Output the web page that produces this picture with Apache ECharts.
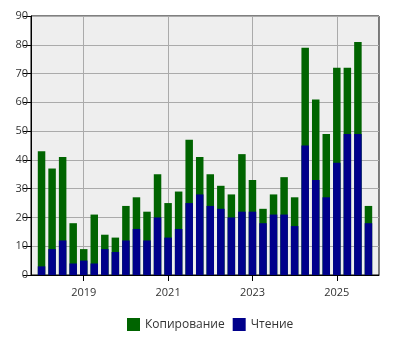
<!DOCTYPE html>
<html>
<head>
<meta charset="utf-8">
<script src="https://cdn.jsdelivr.net/npm/echarts@6/dist/echarts.min.js"></script>
<style>
html,body{margin:0;padding:0;background:#fff;}
#chart{width:400px;height:350px;}
</style>
</head>
<body>
<div id="chart"></div>
<script>
// Quarterly periods (year, quarter)
var periods = [
  '2018-Q1','2018-Q2','2018-Q3','2018-Q4',
  '2019-Q1','2019-Q2','2019-Q3','2019-Q4',
  '2020-Q1','2020-Q2','2020-Q3','2020-Q4',
  '2021-Q1','2021-Q2','2021-Q3','2021-Q4',
  '2022-Q1','2022-Q2','2022-Q3','2022-Q4',
  '2023-Q1','2023-Q2','2023-Q3','2023-Q4',
  '2024-Q1','2024-Q2','2024-Q3','2024-Q4',
  '2025-Q1','2025-Q2','2025-Q3','2025-Q4'
];
var readValues = [3,9,12,4,5,4,9,8,12,16,12,20,13,16,25,28,24,23,20,22,22,18,21,21,17,45,33,27,39,49,49,18];
var copyValues = [40,28,29,14,4,17,5,5,12,11,10,15,12,13,22,13,11,8,8,20,11,5,7,13,10,34,28,22,33,23,32,6];
var tickYears = [2019, 2021, 2023, 2025];
var seriesNames = ['Копирование', 'Чтение'];

function periodToX(p) {
  var parts = p.split('-Q');
  return Number(parts[0]) + (Number(parts[1]) - 1) / 4;
}
// "Копирование" is stacked on top of "Чтение": draw its segment as the cumulative top,
// with "Чтение" drawn over its lower part.
var readData = periods.map(function (p, i) { return [periodToX(p), readValues[i]]; });
var copyTopData = periods.map(function (p, i) { return [periodToX(p), readValues[i] + copyValues[i]]; });

var font = '"Open Sans", "Noto Sans", sans-serif';
var chart = echarts.init(document.getElementById('chart'), null, {renderer: 'canvas'});
chart.setOption({
  animation: false,
  textStyle: {fontFamily: font},
  grid: {
    left: 31, right: 21, top: 16, bottom: 75,
    show: true, backgroundColor: '#eeeeee', borderColor: '#000', borderWidth: 1,
    containLabel: false
  },
  legend: {
    data: seriesNames,
    left: 127, top: 318,
    itemWidth: 13, itemHeight: 13, itemGap: 8,
    icon: 'rect', padding: 0,
    textStyle: {fontSize: 12, color: '#333', fontFamily: font}
  },
  xAxis: {
    type: 'value',
    min: 2017.75, max: 2026,
    axisLine: {show: true, lineStyle: {color: '#000', width: 1}},
    axisTick: {show: true, length: 6, lineStyle: {color: '#000'}, customValues: tickYears},
    axisLabel: {customValues: tickYears, fontSize: 11, color: '#333', margin: 12, fontFamily: font,
      formatter: function (v) { return String(v); }},
    splitLine: {show: true, lineStyle: {color: '#aaaaaa', width: 1}}
  },
  yAxis: {
    type: 'value',
    min: 0, max: 90, interval: 10,
    axisLine: {show: true, lineStyle: {color: '#000', width: 1}},
    axisTick: {show: true, length: 8, lineStyle: {color: '#000'}},
    axisLabel: {fontSize: 11, color: '#333', margin: 3, fontFamily: font},
    splitLine: {show: true, lineStyle: {color: '#aaaaaa', width: 1}}
  },
  series: [
    {
      name: seriesNames[0], type: 'bar',
      data: copyTopData, barWidth: 7.5, barGap: '-100%',
      itemStyle: {color: '#006400'}
    },
    {
      name: seriesNames[1], type: 'bar',
      data: readData, barWidth: 7.5, barGap: '-100%',
      itemStyle: {color: '#00008b'}
    }
  ]
});
</script>
</body>
</html>
